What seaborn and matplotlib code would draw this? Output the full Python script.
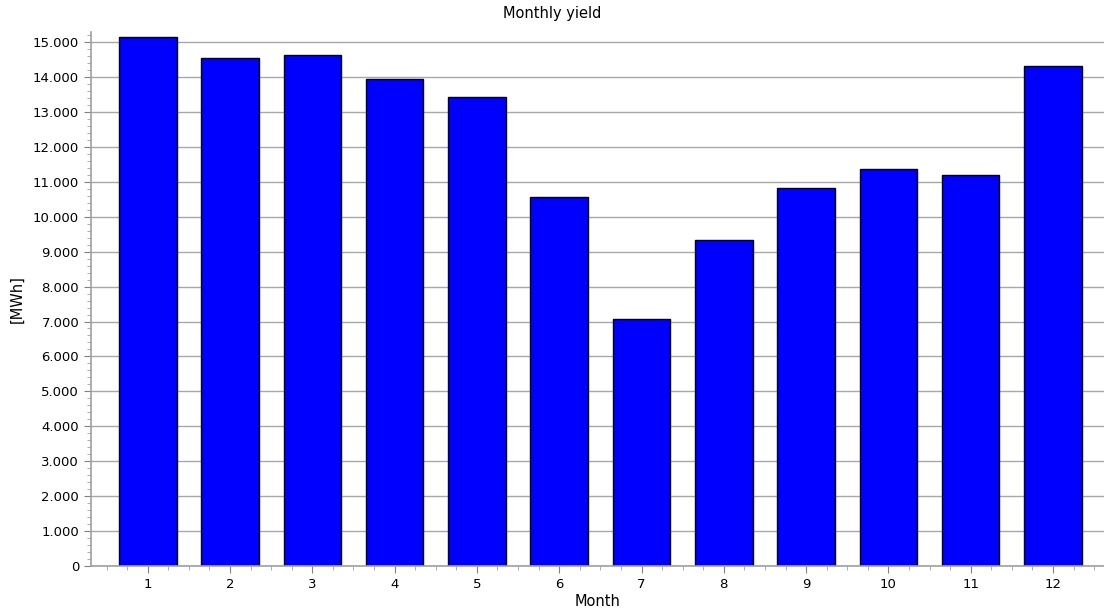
import matplotlib
matplotlib.use("Agg")
import matplotlib.pyplot as plt
import seaborn as sns
import pandas as pd
from matplotlib.ticker import AutoMinorLocator, FuncFormatter, MultipleLocator

months = [str(m) for m in range(1, 13)]
yield_mwh = [15140, 14550, 14630, 13940, 13430, 10570, 7060, 9340, 10830, 11370, 11200, 14330]

df = pd.DataFrame({"Month": months, "Yield": yield_mwh})

sns.set_style("white")
plt.rcParams["font.family"] = ["DejaVu Sans"]
plt.rcParams["text.color"] = "black"
plt.rcParams["axes.labelcolor"] = "black"

fig = plt.figure(figsize=(11.04, 6.15), dpi=100)
ax = fig.add_axes([0.0824, 0.0797, 0.9176, 0.8683])

sns.barplot(data=df, x="Month", y="Yield", color="#0000ff", saturation=1,
            edgecolor="black", linewidth=1, width=0.7, ax=ax, zorder=2)

ax.set_xlim(-0.69, 11.62)
ax.set_ylim(0, 15290)
ax.yaxis.set_major_locator(MultipleLocator(1000))
ax.yaxis.set_minor_locator(AutoMinorLocator(5))
ax.xaxis.set_minor_locator(MultipleLocator(0.25))
ax.yaxis.set_major_formatter(FuncFormatter(lambda v, p: f"{int(v):,}".replace(",", ".")))

ax.grid(axis="y", color="#a8a8a8", linewidth=1.0, zorder=0)
ax.set_axisbelow(True)
for s in ["top", "right"]:
    ax.spines[s].set_visible(False)
for s in ["left", "bottom"]:
    ax.spines[s].set_color("#a0a0a0")
    ax.spines[s].set_linewidth(1.2)

ax.tick_params(axis="both", which="major", length=5, color="#808080", labelsize=9.5,
               labelcolor="black", left=True, bottom=True)
ax.tick_params(axis="both", which="minor", length=3, color="#a0a0a0", left=True, bottom=True)

ax.set_xlabel("Month", fontsize=10.5, labelpad=2)
ax.set_ylabel("[MWh]", fontsize=10.5, labelpad=6)
fig.suptitle("Monthly yield", y=0.99, fontsize=10.5)

fig.savefig("out.png", dpi=100)
